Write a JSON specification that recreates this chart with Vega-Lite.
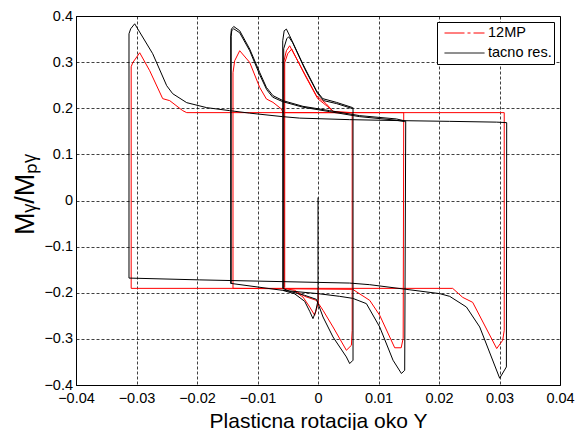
{
  "$schema": "https://vega.github.io/schema/vega-lite/v6.json",
  "width": 484,
  "height": 369,
  "autosize": {"type": "none"},
  "padding": {"left": 76, "top": 16, "right": 16, "bottom": 45},
  "background": "#ffffff",
  "config": {
    "font": "Liberation Sans",
    "view": {"stroke": "#000000", "strokeWidth": 1},
    "axis": {
      "grid": true,
      "gridDash": [3, 2],
      "gridColor": "#000000",
      "gridOpacity": 0.75,
      "gridWidth": 1,
      "ticks": false,
      "domainColor": "#000000",
      "labelColor": "#000000",
      "labelFontSize": 14.5,
      "labelFont": "Liberation Sans",
      "titleFont": "Liberation Sans",
      "titleColor": "#000000",
      "titleFontWeight": "normal",
      "labelOverlap": false,
      "labelFlush": false,
      "labelBound": false
    }
  },
  "data": {
    "values": [
      {"s":"12MP","p":"r1","x":0.03078,"y":0.1905},
      {"s":"12MP","p":"r1","x":-0.02170,"y":0.1905},
      {"s":"12MP","p":"r1","x":-0.02236,"y":0.1948},
      {"s":"12MP","p":"r1","x":-0.02451,"y":0.2165},
      {"s":"12MP","p":"r1","x":-0.02567,"y":0.2208},
      {"s":"12MP","p":"r1","x":-0.02782,"y":0.2814},
      {"s":"12MP","p":"r1","x":-0.02947,"y":0.3203},
      {"s":"12MP","p":"r1","x":-0.03063,"y":0.2987},
      {"s":"12MP","p":"r1","x":-0.03088,"y":0.2900},
      {"s":"12MP","p":"r1","x":-0.03088,"y":-0.1905},
      {"s":"12MP","p":"r1","x":0.02226,"y":-0.1905},
      {"s":"12MP","p":"r1","x":0.02392,"y":-0.2100},
      {"s":"12MP","p":"r1","x":0.02557,"y":-0.2208},
      {"s":"12MP","p":"r1","x":0.02954,"y":-0.3210},
      {"s":"12MP","p":"r1","x":0.03053,"y":-0.3030},
      {"s":"12MP","p":"r1","x":0.03078,"y":-0.2814},
      {"s":"12MP","p":"r1","x":0.03078,"y":0.1905},

      {"s":"12MP","p":"r2","x":0.01417,"y":0.1905},
      {"s":"12MP","p":"r2","x":-0.00579,"y":0.1905},
      {"s":"12MP","p":"r2","x":-0.00605,"y":0.1985},
      {"s":"12MP","p":"r2","x":-0.00744,"y":0.2128},
      {"s":"12MP","p":"r2","x":-0.00853,"y":0.2201},
      {"s":"12MP","p":"r2","x":-0.00964,"y":0.2452},
      {"s":"12MP","p":"r2","x":-0.01129,"y":0.2994},
      {"s":"12MP","p":"r2","x":-0.01294,"y":0.3247},
      {"s":"12MP","p":"r2","x":-0.01377,"y":0.3030},
      {"s":"12MP","p":"r2","x":-0.01405,"y":0.2771},
      {"s":"12MP","p":"r2","x":-0.01405,"y":-0.1905},
      {"s":"12MP","p":"r2","x":0.00574,"y":-0.1926},
      {"s":"12MP","p":"r2","x":0.00855,"y":-0.2165},
      {"s":"12MP","p":"r2","x":0.01020,"y":-0.2489},
      {"s":"12MP","p":"r2","x":0.01268,"y":-0.3193},
      {"s":"12MP","p":"r2","x":0.01375,"y":-0.3193},
      {"s":"12MP","p":"r2","x":0.01408,"y":-0.2987},
      {"s":"12MP","p":"r2","x":0.01417,"y":0.1905},

      {"s":"12MP","p":"r3","x":0.00565,"y":0.1905},
      {"s":"12MP","p":"r3","x":0.00248,"y":0.1933},
      {"s":"12MP","p":"r3","x":0.00139,"y":0.2093},
      {"s":"12MP","p":"r3","x":-0.00026,"y":0.2273},
      {"s":"12MP","p":"r3","x":-0.00248,"y":0.2814},
      {"s":"12MP","p":"r3","x":-0.00468,"y":0.3355},
      {"s":"12MP","p":"r3","x":-0.00522,"y":0.3247},
      {"s":"12MP","p":"r3","x":-0.00562,"y":0.3030},
      {"s":"12MP","p":"r3","x":-0.00562,"y":-0.1905},
      {"s":"12MP","p":"r3","x":-0.00385,"y":-0.1948},
      {"s":"12MP","p":"r3","x":-0.00220,"y":-0.2078},
      {"s":"12MP","p":"r3","x":-0.00026,"y":-0.2165},
      {"s":"12MP","p":"r3","x":0.00083,"y":-0.2381},
      {"s":"12MP","p":"r3","x":0.00248,"y":-0.2742},
      {"s":"12MP","p":"r3","x":0.00469,"y":-0.3247},
      {"s":"12MP","p":"r3","x":0.00552,"y":-0.3139},
      {"s":"12MP","p":"r3","x":0.00565,"y":-0.2814},
      {"s":"12MP","p":"r3","x":0.00565,"y":0.1905},

      {"s":"12MP","p":"r4","x":0.00565,"y":0.1905},
      {"s":"12MP","p":"r4","x":0.00276,"y":0.1905},
      {"s":"12MP","p":"r4","x":0.00160,"y":0.2035},
      {"s":"12MP","p":"r4","x":-0.00005,"y":0.2208},
      {"s":"12MP","p":"r4","x":-0.00220,"y":0.2727},
      {"s":"12MP","p":"r4","x":-0.00435,"y":0.3284},
      {"s":"12MP","p":"r4","x":-0.00501,"y":0.3182},
      {"s":"12MP","p":"r4","x":-0.00550,"y":0.2987},
      {"s":"12MP","p":"r4","x":-0.00550,"y":-0.1883},

      {"s":"12MP","p":"r5","x":0.00003,"y":-0.1948},
      {"s":"12MP","p":"r5","x":0.00003,"y":-0.2229},
      {"s":"12MP","p":"r5","x":-0.00055,"y":-0.2489},
      {"s":"12MP","p":"r5","x":-0.00137,"y":-0.2309},
      {"s":"12MP","p":"r5","x":-0.00248,"y":-0.2093},
      {"s":"12MP","p":"r5","x":-0.00385,"y":-0.1970},

      {"s":"tacno res.","p":"b1","x":0.03119,"y":0.1688},
      {"s":"tacno res.","p":"b1","x":0.02954,"y":0.1699},
      {"s":"tacno res.","p":"b1","x":0.02177,"y":0.1716},
      {"s":"tacno res.","p":"b1","x":0.01350,"y":0.1732},
      {"s":"tacno res.","p":"b1","x":0.00524,"y":0.1753},
      {"s":"tacno res.","p":"b1","x":-0.00302,"y":0.1786},
      {"s":"tacno res.","p":"b1","x":-0.00584,"y":0.1818},
      {"s":"tacno res.","p":"b1","x":-0.01129,"y":0.1894},
      {"s":"tacno res.","p":"b1","x":-0.01460,"y":0.1948},
      {"s":"tacno res.","p":"b1","x":-0.01840,"y":0.2013},
      {"s":"tacno res.","p":"b1","x":-0.02170,"y":0.2121},
      {"s":"tacno res.","p":"b1","x":-0.02402,"y":0.2316},
      {"s":"tacno res.","p":"b1","x":-0.02501,"y":0.2489},
      {"s":"tacno res.","p":"b1","x":-0.02732,"y":0.3182},
      {"s":"tacno res.","p":"b1","x":-0.03030,"y":0.3831},
      {"s":"tacno res.","p":"b1","x":-0.03096,"y":0.3723},
      {"s":"tacno res.","p":"b1","x":-0.03124,"y":0.3615},
      {"s":"tacno res.","p":"b1","x":-0.03124,"y":-0.1682},
      {"s":"tacno res.","p":"b1","x":-0.01955,"y":-0.1721},
      {"s":"tacno res.","p":"b1","x":0.00524,"y":-0.1790},
      {"s":"tacno res.","p":"b1","x":0.00855,"y":-0.1825},
      {"s":"tacno res.","p":"b1","x":0.02012,"y":-0.2019},
      {"s":"tacno res.","p":"b1","x":0.02177,"y":-0.2078},
      {"s":"tacno res.","p":"b1","x":0.02453,"y":-0.2309},
      {"s":"tacno res.","p":"b1","x":0.02673,"y":-0.2742},
      {"s":"tacno res.","p":"b1","x":0.03003,"y":-0.3853},
      {"s":"tacno res.","p":"b1","x":0.03114,"y":-0.3608},
      {"s":"tacno res.","p":"b1","x":0.03119,"y":0.1688},

      {"s":"tacno res.","p":"b2","x":0.01450,"y":0.1721},
      {"s":"tacno res.","p":"b2","x":0.01296,"y":0.1768},
      {"s":"tacno res.","p":"b2","x":0.00689,"y":0.1840},
      {"s":"tacno res.","p":"b2","x":0.00193,"y":0.1948},
      {"s":"tacno res.","p":"b2","x":-0.00248,"y":0.2041},
      {"s":"tacno res.","p":"b2","x":-0.00579,"y":0.2165},
      {"s":"tacno res.","p":"b2","x":-0.00744,"y":0.2273},
      {"s":"tacno res.","p":"b2","x":-0.00853,"y":0.2452},
      {"s":"tacno res.","p":"b2","x":-0.00964,"y":0.2777},
      {"s":"tacno res.","p":"b2","x":-0.01129,"y":0.3284},
      {"s":"tacno res.","p":"b2","x":-0.01294,"y":0.3680},
      {"s":"tacno res.","p":"b2","x":-0.01393,"y":0.3773},
      {"s":"tacno res.","p":"b2","x":-0.01431,"y":0.3716},
      {"s":"tacno res.","p":"b2","x":-0.01443,"y":0.3571},
      {"s":"tacno res.","p":"b2","x":-0.01443,"y":-0.1797},
      {"s":"tacno res.","p":"b2","x":-0.00584,"y":-0.1948},
      {"s":"tacno res.","p":"b2","x":0.0,"y":-0.2019},
      {"s":"tacno res.","p":"b2","x":0.00359,"y":-0.2078},
      {"s":"tacno res.","p":"b2","x":0.00574,"y":-0.2121},
      {"s":"tacno res.","p":"b2","x":0.00800,"y":-0.2236},
      {"s":"tacno res.","p":"b2","x":0.01020,"y":-0.2742},
      {"s":"tacno res.","p":"b2","x":0.01240,"y":-0.3463},
      {"s":"tacno res.","p":"b2","x":0.01379,"y":-0.3751},
      {"s":"tacno res.","p":"b2","x":0.01433,"y":-0.3680},
      {"s":"tacno res.","p":"b2","x":0.01450,"y":0.1721},

      {"s":"tacno res.","p":"b3","x":0.01433,"y":0.1710},
      {"s":"tacno res.","p":"b3","x":0.01284,"y":0.1742},
      {"s":"tacno res.","p":"b3","x":0.00689,"y":0.1818},
      {"s":"tacno res.","p":"b3","x":0.00193,"y":0.1926},
      {"s":"tacno res.","p":"b3","x":-0.00253,"y":0.2024},
      {"s":"tacno res.","p":"b3","x":-0.00584,"y":0.2143},
      {"s":"tacno res.","p":"b3","x":-0.00749,"y":0.2240},
      {"s":"tacno res.","p":"b3","x":-0.00848,"y":0.2403},
      {"s":"tacno res.","p":"b3","x":-0.00964,"y":0.2727},
      {"s":"tacno res.","p":"b3","x":-0.01129,"y":0.3247},
      {"s":"tacno res.","p":"b3","x":-0.01294,"y":0.3636},
      {"s":"tacno res.","p":"b3","x":-0.01393,"y":0.3723},
      {"s":"tacno res.","p":"b3","x":-0.01426,"y":0.3680},
      {"s":"tacno res.","p":"b3","x":-0.01435,"y":0.3550},
      {"s":"tacno res.","p":"b3","x":-0.01435,"y":-0.1807},

      {"s":"tacno res.","p":"b4","x":0.00574,"y":0.2013},
      {"s":"tacno res.","p":"b4","x":0.00304,"y":0.2128},
      {"s":"tacno res.","p":"b4","x":0.00078,"y":0.2208},
      {"s":"tacno res.","p":"b4","x":-0.00026,"y":0.2381},
      {"s":"tacno res.","p":"b4","x":-0.00253,"y":0.2965},
      {"s":"tacno res.","p":"b4","x":-0.00468,"y":0.3571},
      {"s":"tacno res.","p":"b4","x":-0.00522,"y":0.3716},
      {"s":"tacno res.","p":"b4","x":-0.00559,"y":0.3680},
      {"s":"tacno res.","p":"b4","x":-0.00583,"y":0.3463},
      {"s":"tacno res.","p":"b4","x":-0.00583,"y":-0.1905},
      {"s":"tacno res.","p":"b4","x":-0.00468,"y":-0.1970},
      {"s":"tacno res.","p":"b4","x":-0.00220,"y":-0.2056},
      {"s":"tacno res.","p":"b4","x":-0.00026,"y":-0.2143},
      {"s":"tacno res.","p":"b4","x":0.0,"y":-0.2229},
      {"s":"tacno res.","p":"b4","x":0.00083,"y":-0.2526},
      {"s":"tacno res.","p":"b4","x":0.00248,"y":-0.2959},
      {"s":"tacno res.","p":"b4","x":0.00469,"y":-0.3392},
      {"s":"tacno res.","p":"b4","x":0.00524,"y":-0.3535},
      {"s":"tacno res.","p":"b4","x":0.00579,"y":-0.3463},
      {"s":"tacno res.","p":"b4","x":0.00579,"y":0.2013},

      {"s":"tacno res.","p":"b5","x":0.00574,"y":0.1991},
      {"s":"tacno res.","p":"b5","x":0.00309,"y":0.2100},
      {"s":"tacno res.","p":"b5","x":0.00094,"y":0.2165},
      {"s":"tacno res.","p":"b5","x":-0.00005,"y":0.2316},
      {"s":"tacno res.","p":"b5","x":-0.00220,"y":0.2857},
      {"s":"tacno res.","p":"b5","x":-0.00418,"y":0.3420},
      {"s":"tacno res.","p":"b5","x":-0.00484,"y":0.3550},
      {"s":"tacno res.","p":"b5","x":-0.00517,"y":0.3506},
      {"s":"tacno res.","p":"b5","x":-0.00567,"y":0.3290},
      {"s":"tacno res.","p":"b5","x":-0.00567,"y":-0.1916},

      {"s":"tacno res.","p":"b6","x":0.0,"y":0.0065},
      {"s":"tacno res.","p":"b6","x":0.0,"y":-0.2165},
      {"s":"tacno res.","p":"b6","x":-0.00038,"y":-0.2403},
      {"s":"tacno res.","p":"b6","x":-0.00083,"y":-0.2561},
      {"s":"tacno res.","p":"b6","x":-0.00137,"y":-0.2403},
      {"s":"tacno res.","p":"b6","x":-0.00220,"y":-0.2186},
      {"s":"tacno res.","p":"b6","x":-0.00385,"y":-0.2024},
      {"s":"tacno res.","p":"b6","x":-0.00583,"y":-0.1948}
    ]
  },
  "mark": {"type": "line", "strokeWidth": 1, "clip": true},
  "encoding": {
    "x": {
      "field": "x", "type": "quantitative",
      "scale": {"domain": [-0.04, 0.04], "nice": false, "zero": false},
      "axis": {
        "values": [-0.04, -0.03, -0.02, -0.01, 0, 0.01, 0.02, 0.03, 0.04],
        "format": "~g",
        "labelBaseline": "alphabetic",
        "labelPadding": 17.5,
        "title": "Plasticna rotacija oko Y",
        "titleFontSize": 21,
        "titleX": 242,
        "titleY": 42,
        "titleBaseline": "alphabetic",
        "titleAlign": "center",
        "titleAnchor": null
      }
    },
    "y": {
      "field": "y", "type": "quantitative",
      "scale": {"domain": [-0.4, 0.4], "nice": false, "zero": false},
      "axis": {
        "values": [-0.4, -0.3, -0.2, -0.1, 0, 0.1, 0.2, 0.3, 0.4],
        "format": "~g",
        "labelBaseline": "middle",
        "labelPadding": 3.5,
        "title": "Mᵧ/Mₚᵧ",
        "titleFontSize": 27,
        "titleAngle": -90,
        "titleX": -43,
        "titleY": 178,
        "titleBaseline": "alphabetic",
        "titleAlign": "center",
        "titleAnchor": null
      }
    },
    "color": {
      "field": "s", "type": "nominal",
      "scale": {"domain": ["12MP", "tacno res."], "range": ["#ff0000", "#000000"]},
      "legend": {
        "orient": "none",
        "legendX": 361,
        "legendY": 6,
        "title": null,
        "strokeColor": "#000000",
        "fillColor": "#ffffff",
        "padding": 2,
        "symbolType": "stroke",
        "symbolSize": 1600,
        "symbolStrokeWidth": 1,
        "symbolOffset": 5,
        "labelOffset": 3,
        "labelFontSize": 14.5,
        "labelColor": "#000000",
        "labelFont": "Liberation Sans",
        "clipHeight": 18,
        "rowPadding": 2,
        "encode": {
          "symbols": {
            "update": {
              "strokeDash": {"signal": "datum.value === '12MP' ? [20, 3, 3, 3] : [1, 0]"}
            }
          }
        }
      }
    },
    "detail": {"field": "p", "type": "nominal"},
    "order": {"value": null}
  }
}
